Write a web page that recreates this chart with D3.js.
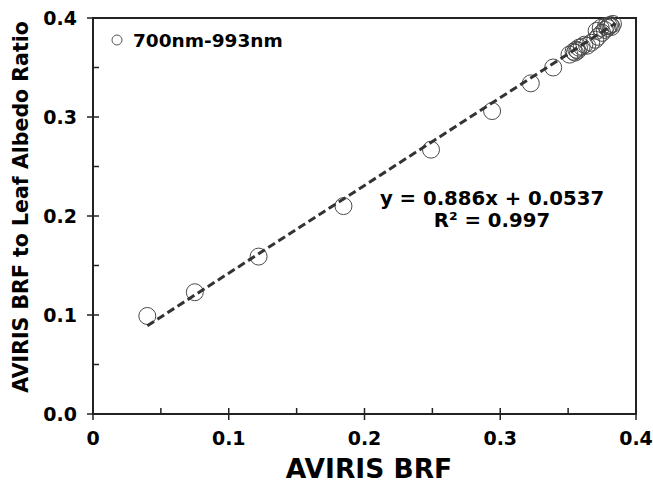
<!DOCTYPE html>
<html>
<head>
<meta charset="UTF-8">
<title>AVIRIS BRF</title>
<style>
  body { margin: 0; background: #fff; }
  text { font-family: "DejaVu Sans", Verdana, sans-serif; font-weight: bold; fill: #000; }
</style>
</head>
<body>
<div id="chart"></div>
<script src="https://d3js.org/d3.v7.min.js"></script>
<script>
// data
var brf = [0.040, 0.075, 0.122, 0.1845, 0.249, 0.294, 0.3225, 0.339,
           0.351, 0.354, 0.356, 0.358, 0.360, 0.362, 0.357, 0.355, 0.364,
           0.367, 0.370, 0.372, 0.375, 0.377, 0.379, 0.380, 0.381, 0.383, 0.382, 0.378, 0.374, 0.371];
var ratio = [0.099, 0.123, 0.159, 0.210, 0.267, 0.306, 0.334, 0.350,
             0.363, 0.366, 0.368, 0.370, 0.371, 0.373, 0.367, 0.365, 0.372,
             0.375, 0.378, 0.381, 0.385, 0.388, 0.390, 0.392, 0.393, 0.394, 0.391, 0.392, 0.390, 0.387];
var fitSlope = 0.886, fitIntercept = 0.0537;
var fitRange = [0.040, 0.385];
var majorTicks = [0, 0.1, 0.2, 0.3, 0.4];
var minorTicks = [0.05, 0.15, 0.25, 0.35];
var xTickLabels = ["0", "0.1", "0.2", "0.3", "0.4"];
var yTickLabels = ["0.0", "0.1", "0.2", "0.3", "0.4"];

var W = 653, H = 484;
var margin = { left: 93, right: 636, top: 18, bottom: 414 };

var svg = d3.select("#chart").append("svg")
    .attr("width", W).attr("height", H);

var x = d3.scaleLinear().domain([0, 0.4]).range([margin.left, margin.right]);
var y = d3.scaleLinear().domain([0, 0.4]).range([margin.bottom, margin.top]);

// frame
svg.append("rect")
    .attr("x", margin.left).attr("y", margin.top)
    .attr("width", margin.right - margin.left).attr("height", margin.bottom - margin.top)
    .attr("fill", "none").attr("stroke", "#222").attr("stroke-width", 2);

// x ticks
svg.selectAll(".xmaj").data(majorTicks).enter().append("line")
    .attr("x1", d => x(d)).attr("x2", d => x(d))
    .attr("y1", margin.bottom - 6).attr("y2", margin.bottom + 6)
    .attr("stroke", "#222").attr("stroke-width", 1.5);
svg.selectAll(".xmin").data(minorTicks).enter().append("line")
    .attr("x1", d => x(d)).attr("x2", d => x(d))
    .attr("y1", margin.bottom - 6).attr("y2", margin.bottom)
    .attr("stroke", "#222").attr("stroke-width", 1.5);
svg.selectAll(".xlab").data(majorTicks).enter().append("text")
    .attr("x", d => x(d)).attr("y", 445)
    .attr("text-anchor", "middle").style("font-size", "19px")
    .text((d, i) => xTickLabels[i]);

// y ticks
svg.selectAll(".ymaj").data(majorTicks).enter().append("line")
    .attr("y1", d => y(d)).attr("y2", d => y(d))
    .attr("x1", margin.left - 6).attr("x2", margin.left + 6)
    .attr("stroke", "#222").attr("stroke-width", 1.5);
svg.selectAll(".ymin").data(minorTicks).enter().append("line")
    .attr("y1", d => y(d)).attr("y2", d => y(d))
    .attr("x1", margin.left).attr("x2", margin.left + 6)
    .attr("stroke", "#222").attr("stroke-width", 1.5);
svg.selectAll(".ylab").data(majorTicks).enter().append("text")
    .attr("x", margin.left - 16).attr("y", d => y(d) + 7)
    .attr("text-anchor", "end").style("font-size", "19px")
    .text((d, i) => yTickLabels[i]);

// axis titles
svg.append("text")
    .attr("x", 369).attr("y", 478)
    .attr("text-anchor", "middle").style("font-size", "26.5px")
    .text("AVIRIS BRF");
svg.append("text")
    .attr("transform", "translate(28,207) rotate(-90)")
    .attr("text-anchor", "middle").style("font-size", "20.5px")
    .text("AVIRIS BRF to Leaf Albedo Ratio");

// points
svg.selectAll(".pt").data(brf).enter().append("circle")
    .attr("cx", d => x(d)).attr("cy", (d, i) => y(ratio[i]))
    .attr("r", 8.5)
    .attr("fill", "none").attr("stroke", "#4a4a4a").attr("stroke-width", 1);

// fitted line
svg.append("line")
    .attr("x1", x(fitRange[0])).attr("y1", y(fitSlope * fitRange[0] + fitIntercept))
    .attr("x2", x(fitRange[1])).attr("y2", y(fitSlope * fitRange[1] + fitIntercept))
    .attr("stroke", "#333").attr("stroke-width", 3)
    .attr("stroke-dasharray", "8,4");

// equation
svg.append("text")
    .attr("x", 492).attr("y", 205)
    .attr("text-anchor", "middle").style("font-size", "19.7px")
    .text("y = 0.886x + 0.0537");
svg.append("text")
    .attr("x", 492).attr("y", 227)
    .attr("text-anchor", "middle").style("font-size", "19.7px")
    .text("R² = 0.997");

// legend
svg.append("circle")
    .attr("cx", 117).attr("cy", 40).attr("r", 5)
    .attr("fill", "none").attr("stroke", "#555").attr("stroke-width", 1);
svg.append("text")
    .attr("x", 133).attr("y", 47)
    .style("font-size", "18.5px")
    .text("700nm-993nm");
</script>
</body>
</html>
